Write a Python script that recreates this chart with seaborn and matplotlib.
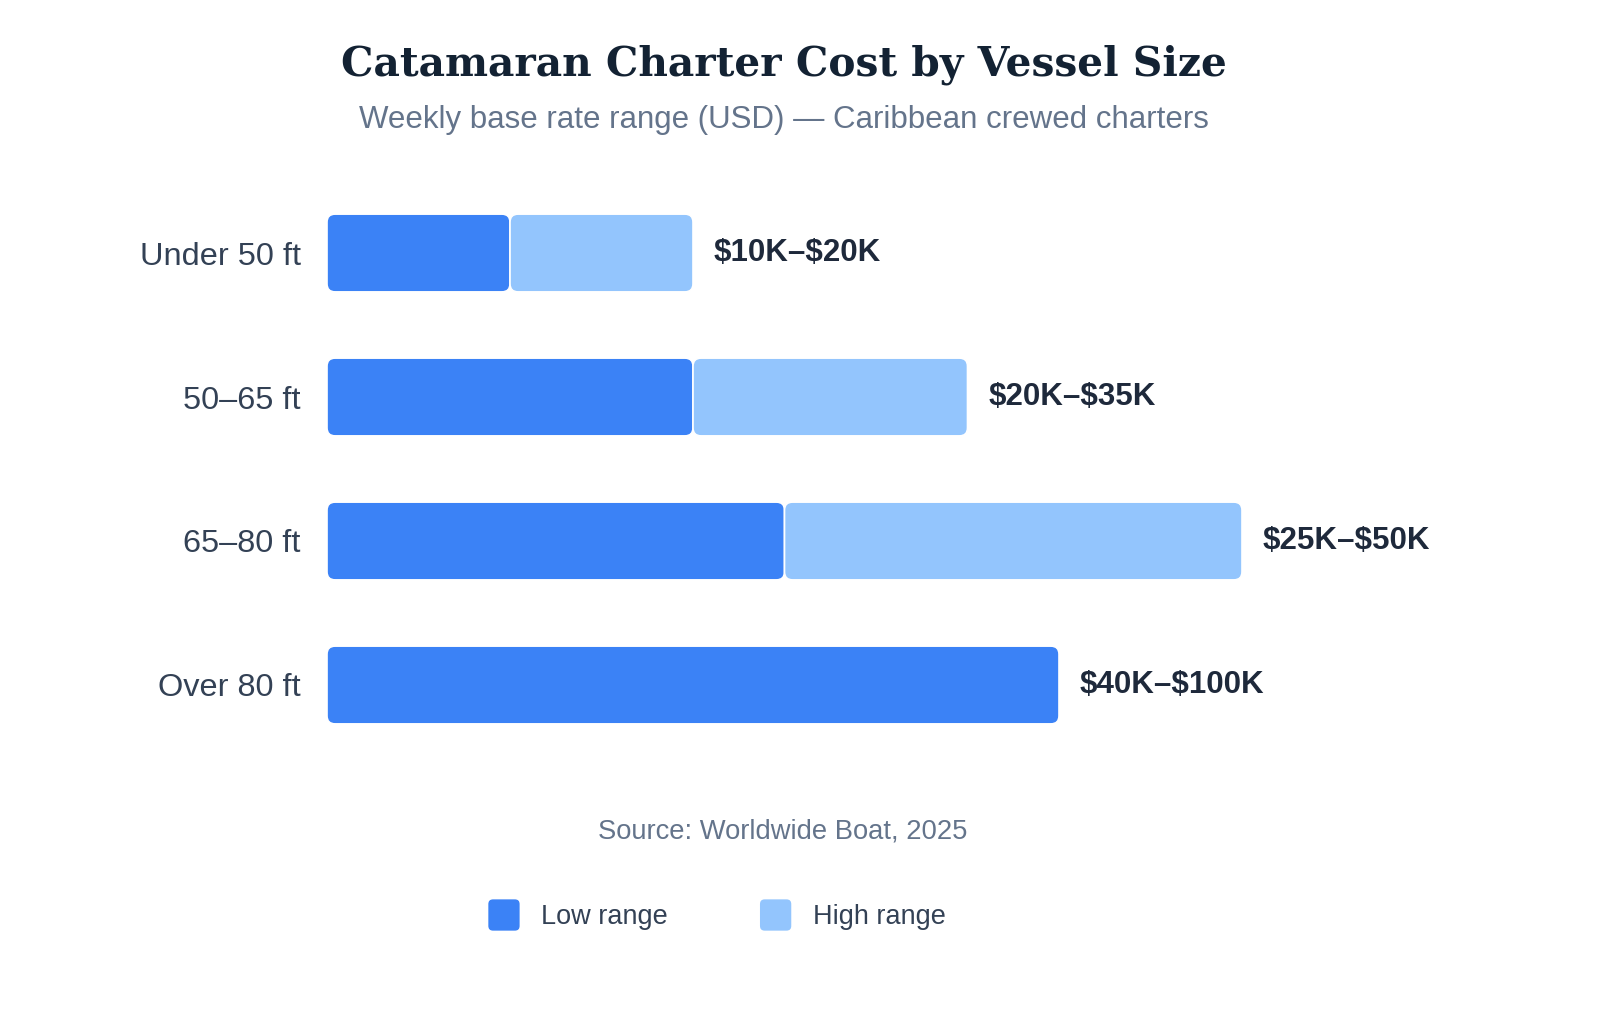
import pandas as pd
import matplotlib.pyplot as plt
import seaborn as sns
from matplotlib.patches import FancyBboxPatch
from matplotlib.legend_handler import HandlerPatch

# datos del grafico (miles de USD por semana)
sizes = ['Under 50 ft', '50–65 ft', '65–80 ft', 'Over 80 ft']
low_k = [10, 20, 25, 40]
high_k = [20, 35, 50, 100]
# el original no dibuja el tramo alto de la ultima fila
draw_high = [True, True, True, False]
range_labels = [r'\$10K–\$20K', r'\$20K–\$35K', r'\$25K–\$50K', r'\$40K–\$100K']

DARK = '#3b82f6'
LIGHT = '#93c5fd'

df = pd.DataFrame({'size': sizes, 'low': low_k, 'high': high_k})

sns.set_theme(style='white')
plt.rcParams['font.family'] = ['Liberation Sans', 'DejaVu Sans']

fig = plt.figure(figsize=(16, 10.13), dpi=100)
ax = fig.add_axes([327 / 1600, 1 - 771.4 / 1013, 1098 / 1600, (771.4 - 166.6) / 1013])

sns.barplot(data=df, x='high', y='size', color=LIGHT, orient='h', width=0.54,
            saturation=1, ax=ax, errorbar=None)
sns.barplot(data=df, x='low', y='size', color=DARK, orient='h', width=0.54,
            saturation=1, ax=ax, errorbar=None)

ax.set_xlim(0, 60)
ax.set_ylim(3.6, -0.6)

# rehacer barras con esquinas redondeadas
px_x = 1098 / 60
px_y = (771.4 - 166.6) / 4.2
radius = 8 / px_x
bars = list(ax.patches)
n = len(sizes)
light_bars, dark_bars = bars[:n], bars[n:]
for p in bars:
    p.remove()

for i in range(n):
    d = dark_bars[i]
    y0, h = d.get_y(), d.get_height()
    segs = [(0, low_k[i], DARK)]
    if draw_high[i]:
        segs.append((low_k[i], light_bars[i].get_width() - low_k[i], LIGHT))
    for x0, w, c in segs:
        box = FancyBboxPatch((x0, y0), w, h,
                             boxstyle=f'round,pad=0,rounding_size={radius}',
                             mutation_aspect=px_x / px_y,
                             facecolor=c, edgecolor='white', linewidth=1.2)
        ax.add_patch(box)
    end = light_bars[i].get_width() if draw_high[i] else low_k[i]
    ax.annotate(range_labels[i], (end, i), xytext=(15, 0), textcoords='offset points',
                va='center', ha='left', fontsize=22.5, fontweight='bold', color='#1e293b')

ax.set_xlabel('')
ax.set_ylabel('')
ax.set_xticks([])
ax.tick_params(axis='y', length=0, pad=19, labelsize=23.4, labelcolor='#334155')
sns.despine(ax=ax, left=True, bottom=True)

fig.text(0.49, 1 - 65 / 1013, 'Catamaran Charter Cost by Vessel Size', ha='center', va='center',
         fontsize=29.3, fontweight='bold', family='DejaVu Serif', color='#132233')
fig.text(0.49, 1 - 120 / 1013, 'Weekly base rate range (USD) — Caribbean crewed charters',
         ha='center', va='center', fontsize=22.5, color='#64748b')
fig.text(783 / 1600, 1 - 831 / 1013, 'Source: Worldwide Boat, 2025', ha='center', va='center',
         fontsize=19.7, color='#64748b')


class RoundHandler(HandlerPatch):
    def create_artists(self, legend, orig_handle, xdescent, ydescent, width, height, fontsize, trans):
        s = min(width, height)
        p = FancyBboxPatch((-xdescent, -ydescent + (height - s) / 2), s, s,
                           boxstyle=f'round,pad=0,rounding_size={s * 0.15}',
                           facecolor=orig_handle.get_facecolor(), edgecolor='none',
                           transform=trans)
        return [p]


handles = [FancyBboxPatch((0, 0), 1, 1, facecolor=DARK), FancyBboxPatch((0, 0), 1, 1, facecolor=LIGHT)]
fig.legend(handles, ['Low range', 'High range'], loc='center', bbox_to_anchor=(717 / 1600, 1 - 915 / 1013),
           ncol=2, frameon=False, fontsize=19.5, labelcolor='#334155', handlelength=1.4, handleheight=1.4,
           handletextpad=0.55, columnspacing=3.4,
           handler_map={FancyBboxPatch: RoundHandler()})

fig.savefig('out.png', dpi=100, facecolor='white')
